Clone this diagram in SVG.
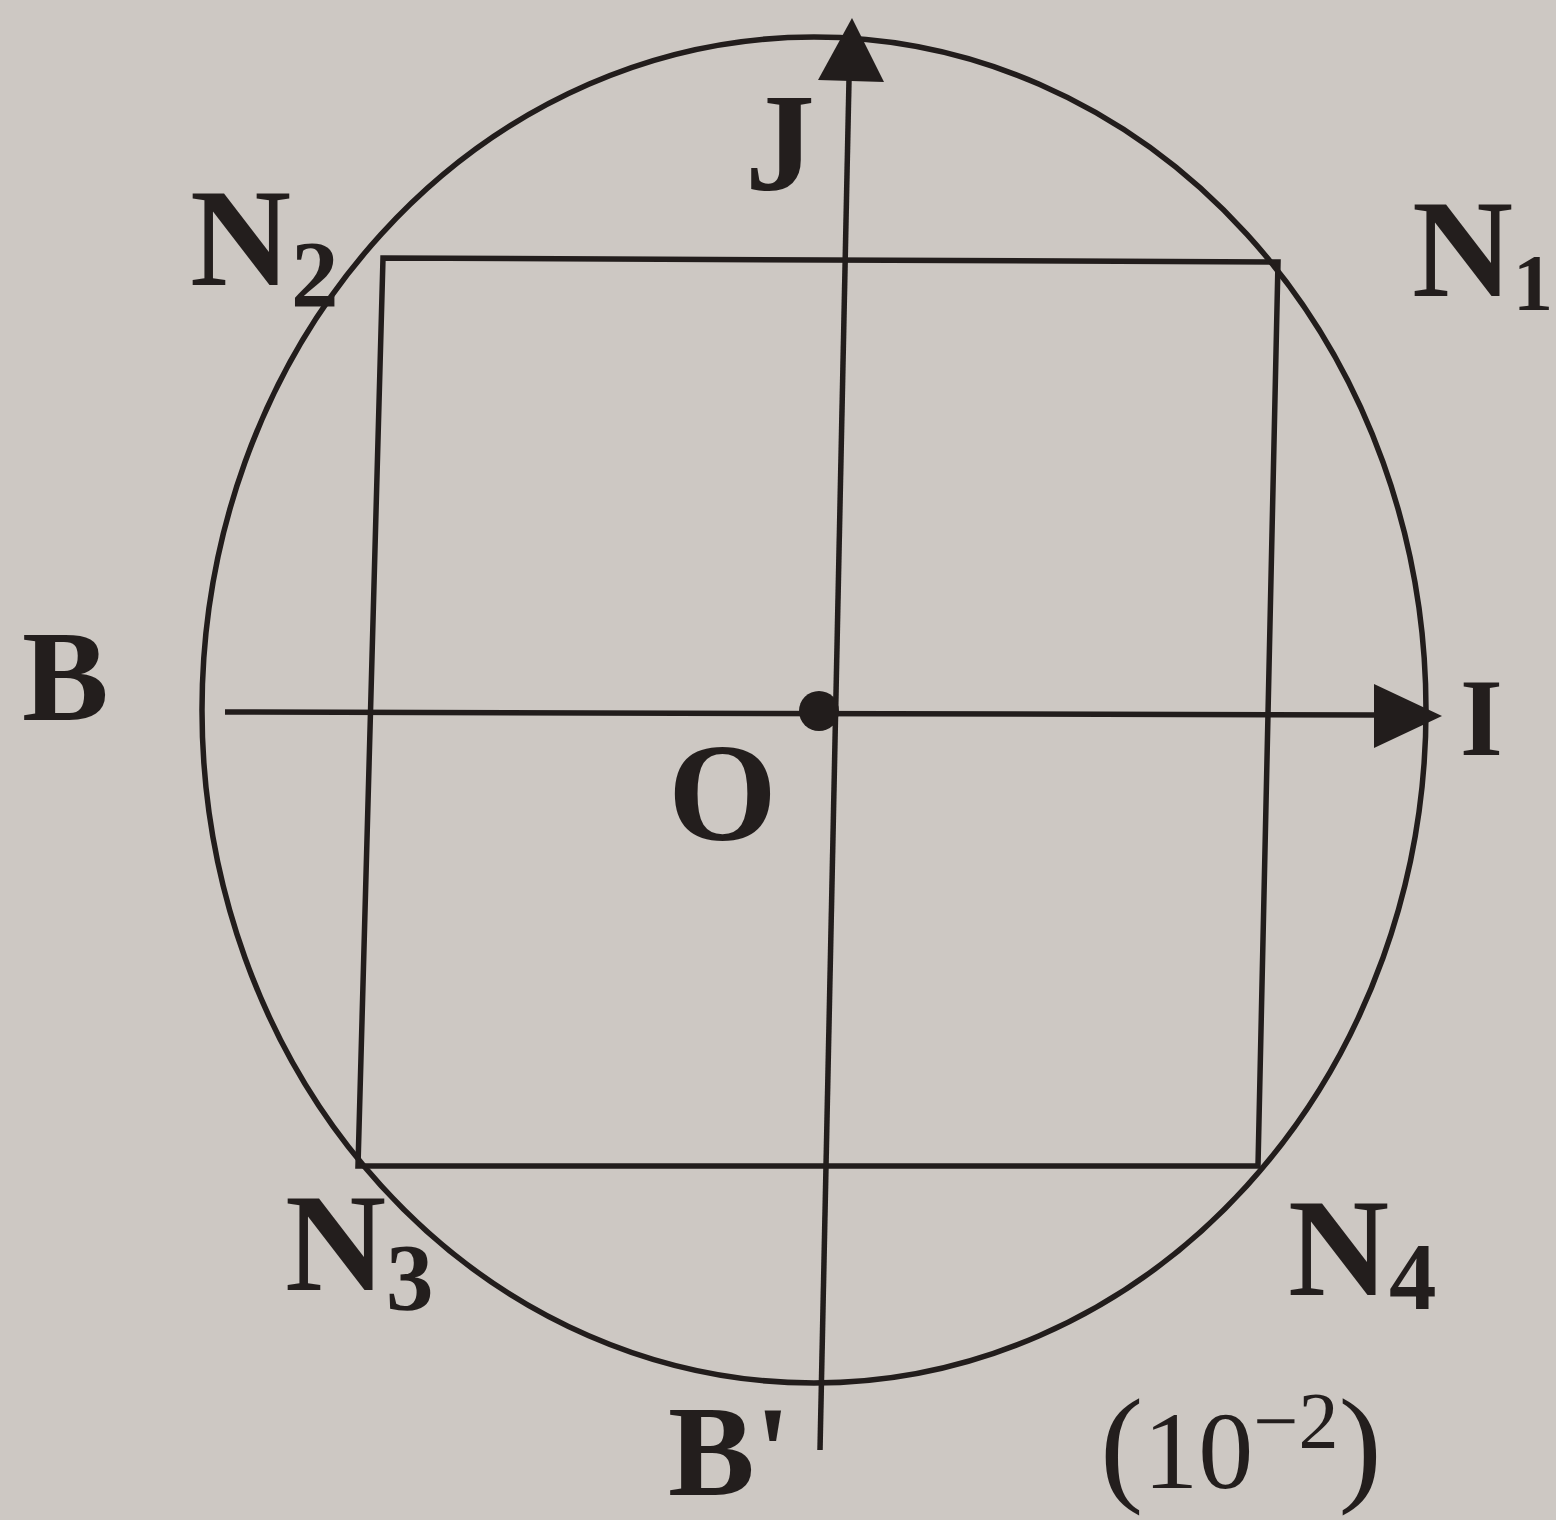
<svg xmlns="http://www.w3.org/2000/svg" width="1556" height="1520" viewBox="0 0 1556 1520">
<style>
.ln{fill:none;stroke:#221d1c;stroke-width:5.5}
.lb{font-family:"Liberation Serif",serif;font-weight:bold;fill:#231e1d}
</style>
<rect width="1556" height="1520" fill="#cdc8c3"/>
<g id="circle"><ellipse class="ln" cx="814" cy="710" rx="612" ry="673"/></g>
<g id="square"><polygon class="ln" points="383,258 1278,262 1258,1166 358,1166"/></g>
<g id="connectors">
<line class="ln" x1="820" y1="1450" x2="849" y2="80"/>
<path d="M852,18 L884,82 L818,80 Z" fill="#221d1c"/>
<line class="ln" x1="225" y1="712" x2="1380" y2="715"/>
<path d="M1442,716 L1374,748 L1374,684 Z" fill="#221d1c"/>
</g>
<g id="O-dot"><circle cx="819" cy="711" r="20" fill="#221d1c"/></g>
<g id="labels">
<text class="lb" x="745" y="190" font-size="140">J</text>
<text class="lb" x="190" y="285" font-size="140">N<tspan font-size="95" dy="22">2</tspan></text>
<text class="lb" x="1412" y="296" font-size="140">N<tspan font-size="80" dy="14">1</tspan></text>
<text class="lb" x="22" y="720" font-size="130">B</text>
<text class="lb" x="1460" y="755" font-size="110">I</text>
<text class="lb" x="668" y="840" font-size="140">O</text>
<text class="lb" x="285" y="1290" font-size="140">N<tspan font-size="95" dy="20">3</tspan></text>
<text class="lb" x="1288" y="1295" font-size="140">N<tspan font-size="95" dy="14">4</tspan></text>
<text class="lb" x="668" y="1495" font-size="130">B'</text>
</g>
<g id="formula">
<text font-family="Liberation Serif,serif" fill="#231e1d" x="1100" y="1488" font-size="130">(<tspan font-size="110">10</tspan><tspan font-size="80" dy="-40">−2</tspan><tspan dy="40" font-size="130">)</tspan></text>
</g>
</svg>
